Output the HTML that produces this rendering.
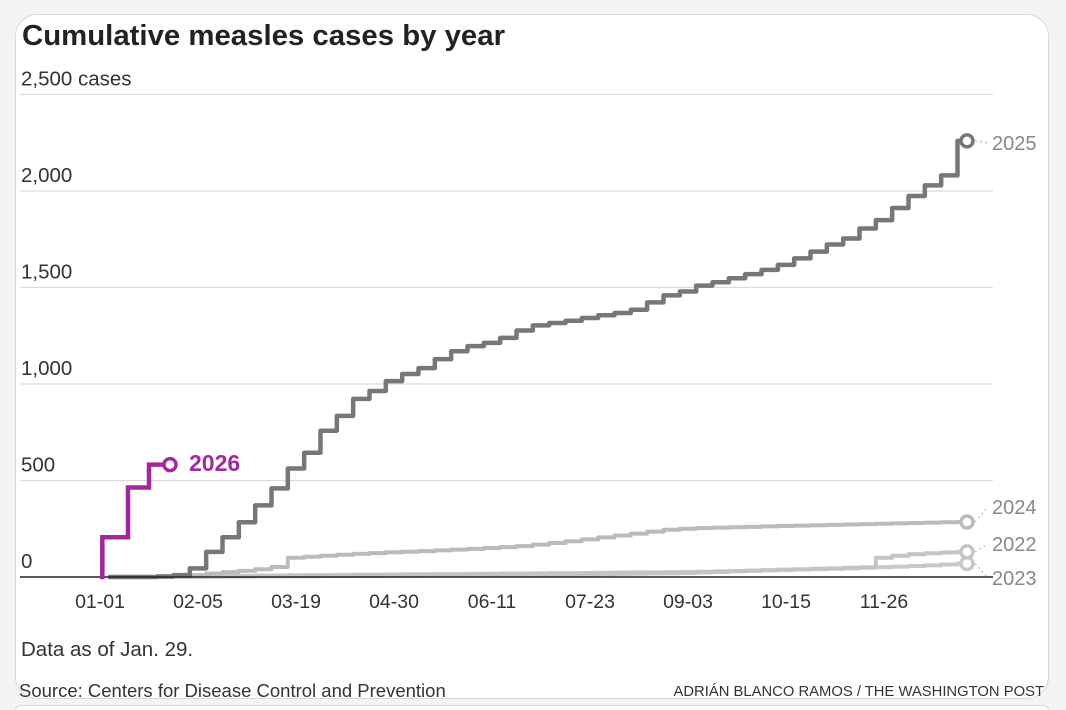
<!DOCTYPE html>
<html><head><meta charset="utf-8">
<style>
html,body{margin:0;padding:0;background:#f3f4f5;width:1066px;height:710px;overflow:hidden;font-family:"Liberation Sans",sans-serif;position:relative;}
#card{position:absolute;left:15px;top:14px;width:1032px;height:683px;background:#fff;border:1.5px solid #d5dade;border-radius:22px;overflow:hidden;}
#card2{position:absolute;left:15px;top:705px;width:1032px;height:5px;background:#fff;border:1.5px solid #d5dade;border-bottom:none;border-radius:22px 22px 0 0;}
svg{position:absolute;left:0;top:0;}
</style></head><body>
<div id="card"></div>
<div id="card2"></div>
<svg id="chart" width="1066" height="710"></svg>
<script>
const yTicks=[0,500,1000,1500,2000,2500];
const yTickLabels=["0","500","1,000","1,500","2,000","2,500 cases"];
const xTickDays=[0,42,84,126,168,210,252,294,336];
const xTickLabels=["01-01","02-05","03-19","04-30","06-11","07-23","09-03","10-15","11-26"];
const weeks=[0,1,2,3,4,5,6,7,8,9,10,11,12,13,14,15,16,17,18,19,20,21,22,23,24,25,26,27,28,29,30,31,32,33,34,35,36,37,38,39,40,41,42,43,44,45,46,47,48,49,50,51,52];
const v2025=[0,0,0,3,10,45,130,206,284,371,459,562,644,758,835,923,964,1015,1052,1082,1129,1170,1196,1213,1239,1277,1304,1316,1328,1342,1356,1368,1385,1423,1459,1479,1510,1527,1548,1569,1591,1617,1651,1686,1723,1754,1806,1849,1912,1974,2029,2081,2260];
const v2024=[0,0,0,0,5,10,18,25,32,40,52,100,105,110,115,120,124,128,131,134,138,142,146,150,155,160,168,176,185,195,205,215,225,235,245,250,253,256,258,260,262,264,266,268,270,272,274,276,278,280,282,284,285];
const v2022=[0,0,0,0,2,3,4,5,6,7,8,9,10,10,11,12,12,13,14,14,15,15,16,17,18,18,19,20,20,21,22,23,24,24,25,25,27,29,31,33,35,38,40,43,45,48,50,100,110,118,123,127,130];
const v2023=[0,0,0,0,0,1,1,2,2,3,3,4,4,5,5,6,6,7,7,8,8,9,9,10,10,11,11,12,12,13,15,16,17,18,19,20,23,26,29,32,35,37,39,41,43,45,48,51,54,57,60,65,70];
const days2026=[0,1,12,21,30];
const v2026=[0,206,464,582,590];

const svg=document.getElementById('chart');
const NS='http://www.w3.org/2000/svg';
const x=d=>100+d*(98/42);
const xw=w=>x(w*7+3.5);
const y=v=>577-v*0.193;
function mk(t,a,p){const e=document.createElementNS(NS,t);for(const k in a)e.setAttribute(k,a[k]);(p||svg).appendChild(e);return e;}

let t=mk('text',{x:22,y:45,'font-size':29,'font-weight':'bold',fill:'#222','textLength':483,'lengthAdjust':'spacingAndGlyphs'});
t.textContent='Cumulative measles cases by year';



yTicks.forEach((v,i)=>{
  if(v>0){const g=mk('line',{x1:20,x2:993,y1:y(v),y2:y(v),stroke:'#dcdcdc','stroke-width':1.2});
  
  }
  const l=mk('text',{x:21,y:y(v)-9,'font-size':20.5,fill:'#333'});
  l.textContent=yTickLabels[i];
  
  
});
xTickDays.forEach((d,i)=>{
  const l=mk('text',{x:x(d),y:608,'font-size':19.5,fill:'#333','text-anchor':'middle'});
  l.textContent=xTickLabels[i];
  
  
});

function stepPath(xs,vs){let d='';for(let i=0;i<xs.length;i++){if(i===0)d+='M'+xs[i]+','+y(vs[i]);else{d+='H'+xs[i]+'V'+y(vs[i]);}}return d;}
const series=[
 {vals:v2023,col:'#c8c8c8',name:'line-2023',lab:'2023',ly:585,w:4},
 {vals:v2022,col:'#c4c4c4',name:'line-2022',lab:'2022',ly:551,w:4},
 {vals:v2024,col:'#bbbbbb',name:'line-2024',lab:'2024',ly:514,w:4},
 {vals:v2025,col:'#777777',name:'line-2025',lab:'2025',ly:150,w:4.5}
];
series.forEach(s=>{
  const xs=weeks.map(w=>xw(w));
  xs.push(967);
  const vs=s.vals.slice();vs.push(s.vals[s.vals.length-1]);
  const p=mk('path',{d:stepPath(xs,vs),fill:'none',stroke:s.col,'stroke-width':s.w,'stroke-linejoin':'round'});
  
  
  const ev=vs[vs.length-1];
  const c=mk('circle',{cx:967,cy:y(ev),r:6,fill:'#fff',stroke:s.col,'stroke-width':3.5});
  
  
  const dl=mk('line',{x1:975,y1:y(ev),x2:988,y2:s.ly-7,stroke:'#bbb','stroke-width':1.2,'stroke-dasharray':'2,3'});
  
  
  const l=mk('text',{x:992,y:s.ly,'font-size':20,fill:'#888'});
  l.textContent=s.lab;
  
  
});
const bl=mk('line',{x1:20,x2:993,y1:577,y2:577,stroke:'#222','stroke-width':1.5});



const xs26=days2026.map(d=>x(d));
let d26='M'+xs26[0]+','+y(0);
for(let i=1;i<xs26.length-1;i++){d26+='H'+xs26[i]+'V'+y(v2026[i]);}
d26+='H'+xs26[xs26.length-1];
const p26=mk('path',{d:d26,fill:'none',stroke:'#a3279d','stroke-width':4.5});


const c26=mk('circle',{cx:xs26[xs26.length-1],cy:y(v2026[v2026.length-2]),r:6,fill:'#fff',stroke:'#a3279d','stroke-width':3.5});


const l26=mk('text',{x:189,y:471,'font-size':23,'font-weight':'bold',fill:'#a3279d'});
l26.textContent='2026';



const n1=mk('text',{x:21,y:656,'font-size':20.5,fill:'#333'});
n1.textContent='Data as of Jan. 29.';


const n2=mk('text',{x:19,y:697,'font-size':18.5,fill:'#333'});
n2.textContent='Source: Centers for Disease Control and Prevention';


const n3=mk('text',{x:1044,y:696,'font-size':14.8,fill:'#333','text-anchor':'end'});
n3.textContent='ADRIÁN BLANCO RAMOS / THE WASHINGTON POST';


</script>
</body></html>
